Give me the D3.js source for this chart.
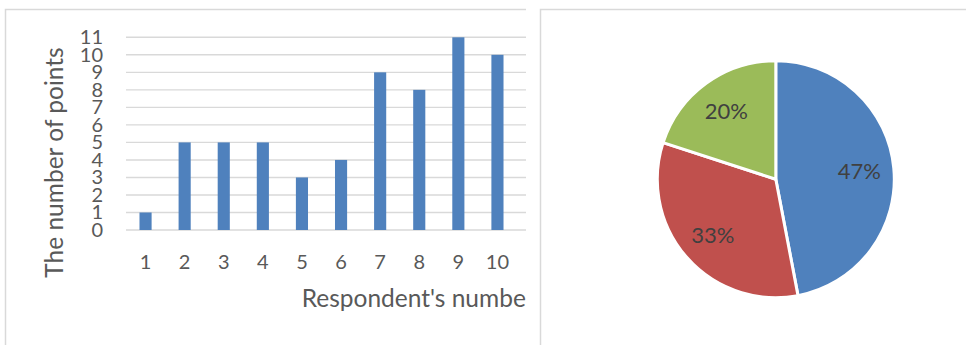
<!DOCTYPE html>
<html>
<head>
<meta charset="utf-8">
<script src="https://cdn.jsdelivr.net/npm/d3@7"></script>
<style>
  html, body { margin: 0; padding: 0; background: #fff; }
  svg { display: block; font-family: Lato, "Open Sans", sans-serif; }
</style>
</head>
<body>
<svg id="chart" width="966" height="345"></svg>
<script>
// Bar chart: points scored by each respondent
const respondents = [1, 2, 3, 4, 5, 6, 7, 8, 9, 10];
const points = [1, 5, 5, 5, 3, 4, 9, 8, 11, 10];
const yTicks = [0, 1, 2, 3, 4, 5, 6, 7, 8, 9, 10, 11];
const yTitle = "The number of points";
const xTitle = "Respondent's number";

// Pie chart: share of each group, in percent
const shares = [47, 33, 20];

const barColor = "#4f81bd";
const pieColors = ["#4f81bd", "#c0504d", "#9bbb59"];
const textColor = "#595959";
const gridColor = "#d9d9d9";
const frameColor = "#d9d9d9";

const svg = d3.select("#chart");

// ---------- left panel (cut off at its right edge) ----------
const left = svg.append("g");
svg.append("defs").append("clipPath").attr("id", "leftClip")
  .append("rect").attr("x", 0).attr("y", 0).attr("width", 526).attr("height", 345);
left.attr("clip-path", "url(#leftClip)");

left.append("path")
  .attr("d", "M5.5,345 V9.5 H526")
  .attr("fill", "none").attr("stroke", frameColor).attr("stroke-width", 1.5);

const x = d3.scaleBand().domain(respondents).range([126, 517]).paddingInner(0.69).paddingOuter(0.345);
const y = d3.scaleLinear().domain([0, 11]).range([230, 37.3]);

// horizontal gridlines
left.append("g").selectAll("line").data(yTicks).join("line")
  .attr("x1", 126).attr("x2", 526)
  .attr("y1", d => y(d)).attr("y2", d => y(d))
  .attr("stroke", gridColor).attr("stroke-width", 1.4);

// bars
left.append("g").selectAll("rect").data(points).join("rect")
  .attr("x", (d, i) => x(respondents[i]))
  .attr("width", x.bandwidth())
  .attr("y", d => y(d))
  .attr("height", d => y(0) - y(d))
  .attr("fill", barColor);

// y axis labels
const yAxis = d3.axisLeft(y).tickValues(yTicks).tickSize(0).tickPadding(0);
const yg = left.append("g").attr("transform", "translate(103,0)").call(yAxis);
yg.select(".domain").remove();
yg.selectAll("text").attr("fill", textColor).attr("font-size", 20)
  .attr("font-family", "Lato, sans-serif");

// x axis labels
const xAxis = d3.axisBottom(x).tickSize(0).tickPadding(0);
const xg = left.append("g").attr("transform", "translate(0,254)").call(xAxis);
xg.select(".domain").remove();
xg.selectAll("text").attr("fill", textColor).attr("font-size", 20)
  .attr("font-family", "Lato, sans-serif").attr("dy", "0.75em");

// axis titles
left.append("text")
  .attr("transform", "translate(63,162.5) rotate(-90)")
  .attr("text-anchor", "middle")
  .attr("fill", textColor).attr("font-size", 24.5)
  .text(yTitle);

left.append("text")
  .attr("x", 301.7).attr("y", 306.7)
  .attr("fill", textColor).attr("font-size", 24.5)
  .text(xTitle);

// ---------- right panel ----------
const right = svg.append("g");
right.append("path")
  .attr("d", "M540.5,345 V9.5 H966")
  .attr("fill", "none").attr("stroke", frameColor).attr("stroke-width", 1.5);

const cx = 775.8, cy = 179.2, radius = 118.5;
const pie = d3.pie().sort(null).value(d => d);
const arcs = pie(shares);
const arc = d3.arc().innerRadius(0).outerRadius(radius);
const labelArc = d3.arc().innerRadius(84).outerRadius(84);

const pg = right.append("g").attr("transform", `translate(${cx},${cy})`);
pg.selectAll("path").data(arcs).join("path")
  .attr("d", arc)
  .attr("fill", (d, i) => pieColors[i])
  .attr("stroke", "#fff").attr("stroke-width", 3).attr("stroke-linejoin", "round");

pg.selectAll("text").data(arcs).join("text")
  .attr("transform", d => `translate(${labelArc.centroid(d)})`)
  .attr("text-anchor", "middle").attr("dy", "0.36em")
  .attr("fill", "#404040").attr("font-size", 22)
  .text(d => d.data + "%");
</script>
</body>
</html>
